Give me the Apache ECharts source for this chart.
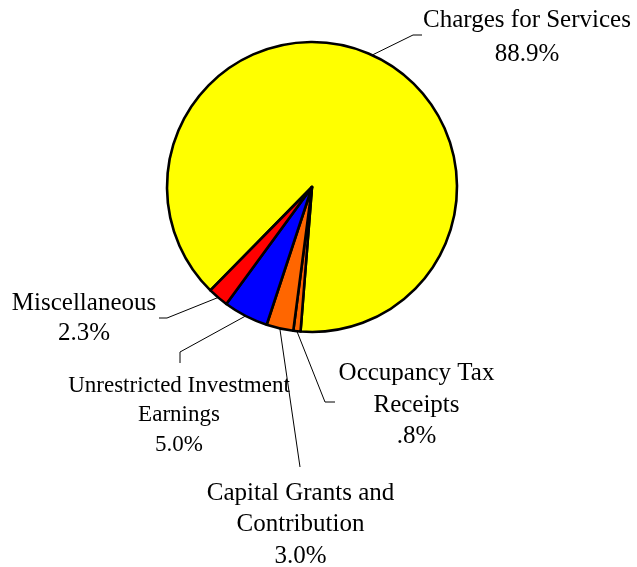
<!DOCTYPE html>
<html>
<head>
<meta charset="utf-8">
<script src="https://cdn.jsdelivr.net/npm/echarts@6/dist/echarts.min.js"></script>
<style>
html,body{margin:0;padding:0;background:#fff;}
#chart{width:637px;height:567px;}
</style>
</head>
<body>
<div id="chart"></div>
<script>
var categories = ['Charges for Services', 'Occupancy Tax\nReceipts', 'Capital Grants and\nContribution', 'Unrestricted Investment\nEarnings', 'Miscellaneous'];
var values = [88.9, 0.8, 3.0, 5.0, 2.3];
var colors = ['#FFFF00', '#FF6600', '#FF6600', '#0000FF', '#FF0000'];

function pctText(v) {
  var s = v.toFixed(1);
  if (s.indexOf('0.') === 0) s = s.slice(1);
  return s + '%';
}

// label placement (style only)
var labelPlace = [
  {x: 527, y: 3, fs: 25, lh: 34, line: [[413, 35], [422, 35]]},
  {x: 416.5, y: 357.5, fs: 25, lh: 31.7, line: [[325, 402], [335, 402]]},
  {x: 300.5, y: 477.5, fs: 25, lh: 31.5, line: [[300, 467], [300, 467]]},
  {x: 179, y: 371, fs: 23, lh: 29.5, line: [[180, 352], [180, 363]]},
  {x: 84, y: 288, fs: 25, lh: 30, line: [[167, 318], [159, 318]]}
];

var data = categories.map(function (c, i) {
  return {
    name: c,
    value: values[i],
    itemStyle: {color: colors[i]},
    label: {fontSize: labelPlace[i].fs, lineHeight: labelPlace[i].lh}
  };
});

var chart = echarts.init(document.getElementById('chart'));
chart.setOption({
  animation: false,
  series: [{
    type: 'pie',
    center: [312, 187],
    radius: [0, 145],
    startAngle: 225.5,
    clockwise: true,
    data: data,
    itemStyle: {borderColor: '#000', borderWidth: 2.6},
    label: {
      show: true,
      position: 'outside',
      overflow: 'none',
      align: 'center',
      fontFamily: '"Liberation Serif", "Times New Roman", serif',
      color: '#000',
      fontSize: 25,
      formatter: function (p) { return p.name + '\n' + pctText(p.value); }
    },
    labelLine: {show: true, length: 10, length2: 10, lineStyle: {color: '#000', width: 1}},
    labelLayout: function (params) {
      var lp = labelPlace[params.dataIndex];
      var start = params.labelLinePoints ? params.labelLinePoints[0] : lp.line[0];
      return {
        x: lp.x,
        y: lp.y,
        align: 'center',
        verticalAlign: 'top',
        labelLinePoints: [start, lp.line[0], lp.line[1]]
      };
    },
    emphasis: {disabled: true}
  }]
});
</script>
</body>
</html>
